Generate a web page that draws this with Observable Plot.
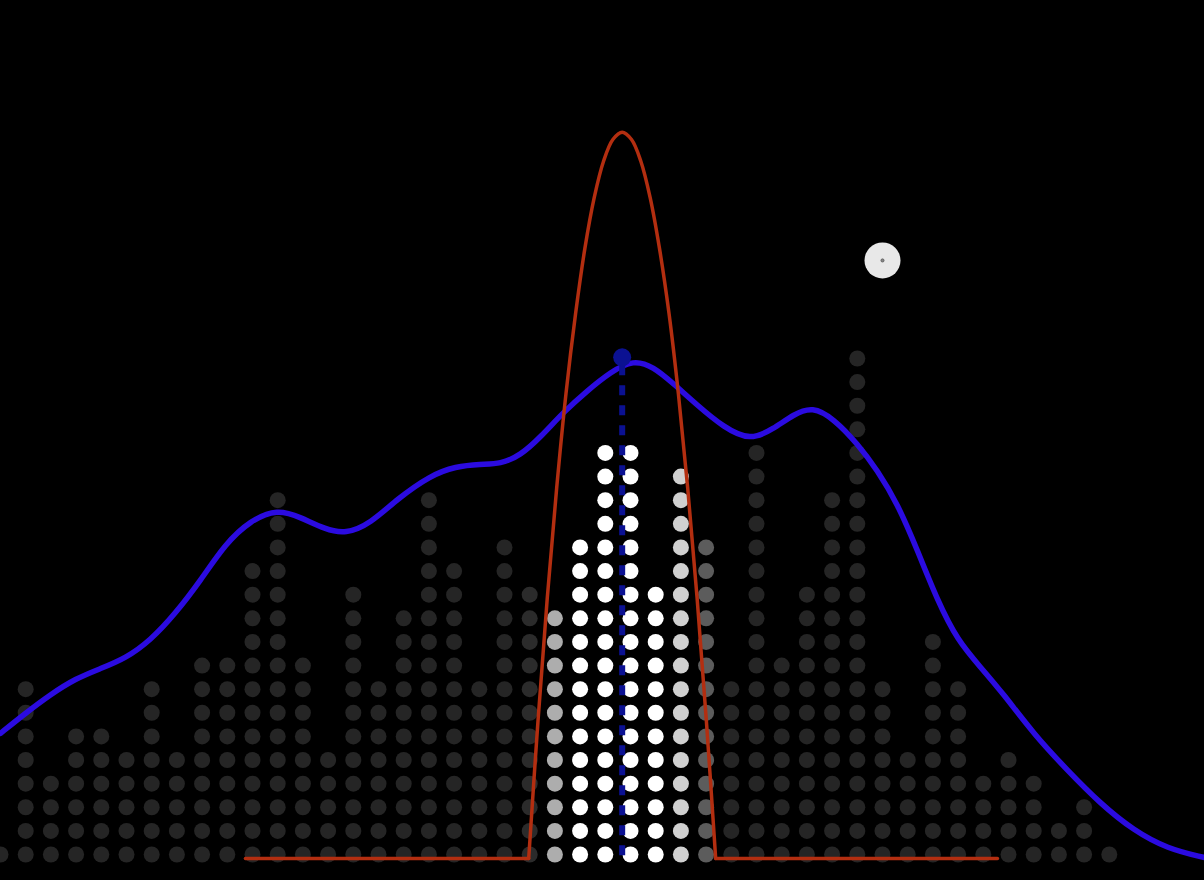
<!DOCTYPE html>
<html>
<head>
<meta charset="utf-8">
<script src="https://cdn.jsdelivr.net/npm/d3@7"></script>
<script src="https://cdn.jsdelivr.net/npm/@observablehq/plot@0.6"></script>
<style>
  html, body { margin: 0; padding: 0; background: #000; overflow: hidden; }
  #chart svg { display: block; }
</style>
</head>
<body>
<div id="chart"></div>
<script>
// ---- data ----
// number of stacked dots in each bin (bin index 0..44)
const binCounts = [1, 8, 4, 6, 6, 5, 8, 5, 9, 9, 13, 16, 9, 5, 12, 8, 11, 16, 13, 8, 14, 12, 11, 14, 18, 18, 12, 17, 14, 8, 18, 9, 12, 16, 22, 8, 5, 10, 8, 4, 5, 4, 2, 3, 1];

// density estimate (blue curve), in bin units / dot-count units
const densityX = [0, 0.99, 1.98, 2.98, 3.97, 4.96, 5.95, 6.94, 7.94, 8.93, 9.92, 10.99, 11.90, 12.90, 13.69, 14.68, 15.75, 17.06, 18.06, 19.05, 19.84, 20.63, 21.43, 22.34, 23.29, 24.21, 25.12, 25.91, 26.71, 27.66, 28.69, 29.76, 30.67, 31.47, 32.22, 33.06, 34.01, 34.80, 35.60, 36.39, 37.18, 37.98, 38.89, 39.80, 40.99, 42.34, 43.65, 44.96, 46.31, 47.78];
const densityY = [5.30, 6.15, 6.94, 7.62, 8.04, 8.47, 9.23, 10.37, 11.77, 13.34, 14.31, 14.80, 14.45, 13.93, 13.74, 14.18, 15.23, 16.22, 16.60, 16.70, 16.70, 17.06, 17.84, 18.90, 19.81, 20.60, 21.12, 20.82, 20.10, 19.18, 18.26, 17.68, 18.19, 18.80, 19.14, 18.62, 17.56, 16.43, 15.02, 13.04, 10.92, 9.23, 8.10, 6.97, 5.28, 3.73, 2.32, 1.19, 0.41, 0.04];

// kernel (red curve)
const kernelX = [9.72, 20.96, 21.33, 21.70, 22.07, 22.44, 22.82, 23.19, 23.56, 23.93, 24.30, 24.67, 25.04, 25.41, 25.78, 26.15, 26.53, 26.90, 27.27, 27.64, 28.01, 28.38, 39.56];
const kernelY = [0, 0, 5.84, 11.07, 15.68, 19.68, 23.06, 25.83, 27.98, 29.52, 30.44, 30.75, 30.44, 29.52, 27.98, 25.83, 23.06, 19.68, 15.68, 11.07, 5.84, 0, 0];

// kernel centre marker and handle
const centerX = [24.67];
const centerY = [21.22];
const handleX = [35.0];
const handleY = [25.32];

// ---- derived tables ----
const kernelPeak = d3.max(kernelY);
function kernelAt(x) {
  for (let k = 0; k < kernelX.length - 1; k++) {
    if (x >= kernelX[k] && x <= kernelX[k + 1]) {
      const t = (x - kernelX[k]) / (kernelX[k + 1] - kernelX[k] || 1);
      return kernelY[k] + t * (kernelY[k + 1] - kernelY[k]);
    }
  }
  return 0;
}
const shade = d3.interpolateRgb("#252525", "#ffffff");
const dots = [];
binCounts.forEach((n, i) => {
  const w = kernelAt(i) / kernelPeak;
  const c = shade(Math.min(1, 1.3 * w));
  for (let j = 0; j < n; j++) dots.push({x: i, y: j, fill: c});
});
const density = densityX.map((x, i) => ({x, y: densityY[i]}));
const kernel = kernelX.map((x, i) => ({x, y: kernelY[i], i}));
const last = kernel.length - 1;
const kernelBody = kernel.filter(d => d.i >= 1 && d.i <= last - 1);
const kernelLeft = kernel.filter(d => d.i <= 1);
const kernelRight = kernel.filter(d => d.i >= last - 1);
const centre = centerX.map((x, i) => ({x, y: centerY[i]}));
const centreLine = [{x: centerX[0], y: centerY[0]}, {x: centerX[0], y: 0}];
const handle = handleX.map((x, i) => ({x, y: handleY[i]}));

const W = 1204, H = 880;
const colW = 25.2, rowH = 23.62, base = 858;
const red = "#b32e10";
const navy = "#0b1192";

const chart = Plot.plot({
  width: W,
  height: H,
  marginLeft: 0,
  marginRight: 0,
  marginTop: 0,
  marginBottom: H - base,
  style: {background: "#000"},
  x: {domain: [0, W / colW], axis: null},
  y: {domain: [0, base / rowH], axis: null},
  marks: [
    Plot.dot(dots, {x: "x", y: "y", r: 8, fill: "fill", stroke: null, dy: -4}),
    Plot.line(density, {x: "x", y: "y", stroke: "#2b0be0", strokeWidth: 5.5, curve: "basis"}),
    Plot.line(kernelLeft, {x: "x", y: "y", stroke: red, strokeWidth: 3.5}),
    Plot.line(kernelRight, {x: "x", y: "y", stroke: red, strokeWidth: 3.5}),
    Plot.line(kernelBody, {x: "x", y: "y", stroke: red, strokeWidth: 3.5, curve: "catmull-rom"}),
    Plot.line(centreLine, {x: "x", y: "y", stroke: navy, strokeWidth: 6, strokeDasharray: "10,10", strokeDashoffset: -8, strokeLinecap: "butt"}),
    Plot.dot(centre, {x: "x", y: "y", r: 9, fill: navy, stroke: null}),
    Plot.dot(handle, {x: "x", y: "y", r: 18, fill: "#e8e8e8", stroke: null}),
    Plot.dot(handle, {x: "x", y: "y", r: 1.6, fill: "#888", stroke: "#444", strokeWidth: 0.6})
  ]
});
document.getElementById("chart").appendChild(chart);
</script>
</body>
</html>
